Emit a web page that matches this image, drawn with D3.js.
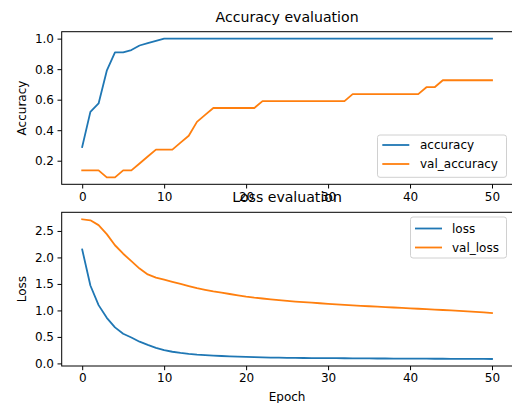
<!DOCTYPE html>
<html>
<head>
<meta charset="utf-8">
<script src="https://cdn.jsdelivr.net/npm/d3@7"></script>
<style>
  body { margin: 0; background: #fff; }
  svg { display: block; font-family: "DejaVu Sans", sans-serif; }
</style>
</head>
<body>
<div id="app"></div>
<script>
// values, one per epoch (0..50)
const epochs = d3.range(0, 51);

const accuracy = [0.29, 0.52, 0.575, 0.79, 0.91, 0.91, 0.925, 0.955, 0.97, 0.985,
  1, 1, 1, 1, 1, 1, 1, 1, 1, 1, 1, 1, 1, 1, 1, 1, 1, 1, 1, 1,
  1, 1, 1, 1, 1, 1, 1, 1, 1, 1, 1, 1, 1, 1, 1, 1, 1, 1, 1, 1, 1];

// val accuracy looks like n / 22
const valAccCounts = [3, 3, 3, 2, 2, 3, 3, 4, 5, 6, 6, 6, 7, 8, 10, 11, 12, 12, 12, 12,
  12, 12, 13, 13, 13, 13, 13, 13, 13, 13, 13, 13, 13, 14, 14, 14, 14, 14, 14, 14,
  14, 14, 15, 15, 16, 16, 16, 16, 16, 16, 16];
const valAccuracy = valAccCounts.map(n => n / 22);

const loss = [2.15, 1.47, 1.10, 0.86, 0.68, 0.56, 0.49, 0.41, 0.35, 0.295,
  0.25, 0.22, 0.198, 0.18, 0.166, 0.156, 0.148, 0.14, 0.133, 0.127,
  0.122, 0.118, 0.114, 0.111, 0.108, 0.106, 0.104, 0.102, 0.101, 0.1,
  0.099, 0.098, 0.097, 0.096, 0.095, 0.094, 0.093, 0.093, 0.092, 0.091,
  0.09, 0.09, 0.089, 0.088, 0.088, 0.087, 0.086, 0.086, 0.085, 0.084, 0.083];

const valLoss = [2.72, 2.70, 2.61, 2.44, 2.23, 2.07, 1.93, 1.79, 1.68, 1.62,
  1.58, 1.54, 1.50, 1.46, 1.42, 1.39, 1.36, 1.335, 1.31, 1.285,
  1.26, 1.24, 1.225, 1.21, 1.195, 1.18, 1.168, 1.157, 1.146, 1.135,
  1.125, 1.115, 1.105, 1.095, 1.087, 1.079, 1.071, 1.063, 1.055, 1.047,
  1.04, 1.032, 1.024, 1.016, 1.008, 1.0, 0.99, 0.981, 0.972, 0.963, 0.95];

const xTicks = [0, 10, 20, 30, 40, 50];
const accTicks = [0.2, 0.4, 0.6, 0.8, 1.0];
const lossTicks = [0.0, 0.5, 1.0, 1.5, 2.0, 2.5];

const blue = "#1f77b4";
const orange = "#ff7f0e";

const W = 512, H = 403;
const svg = d3.select("#app").append("svg")
  .attr("width", W)
  .attr("height", H);

// matplotlib style 5% margins
function padded(vals) {
  let lo = d3.min(vals), hi = d3.max(vals);
  let m = (hi - lo) * 0.05;
  return [lo - m, hi + m];
}

function drawPanel(cfg) {
  const left = 61.7, right = 512.5;
  const x = d3.scaleLinear().domain([-2.5, 52.5]).range([left, right]);
  const y = d3.scaleLinear()
    .domain(padded(cfg.series[0].values.concat(cfg.series[1].values)))
    .range([cfg.bottom, cfg.top]);

  const g = svg.append("g");

  // x axis
  const xa = g.append("g")
    .attr("transform", "translate(0," + cfg.bottom + ")")
    .call(d3.axisBottom(x).tickValues(xTicks).tickSize(4.2).tickPadding(3.5).tickFormat(d3.format("d")));
  // y axis
  const ya = g.append("g")
    .attr("transform", "translate(" + left + ",0)")
    .call(d3.axisLeft(y).tickValues(cfg.ticks).tickSize(4.2).tickPadding(3.5).tickFormat(d3.format(".1f")));

  [xa, ya].forEach(a => {
    a.select(".domain").remove();
    a.selectAll("line").attr("stroke", "#000").attr("stroke-width", 1);
    a.selectAll("text").attr("fill", "#000").style("font-size", "12px")
      .style("font-family", "DejaVu Sans");
  });

  // lines
  const line = d3.line().x((d, i) => x(epochs[i])).y(d => y(d));
  cfg.series.forEach(s => {
    g.append("path")
      .datum(s.values)
      .attr("fill", "none")
      .attr("stroke", s.color)
      .attr("stroke-width", 1.8)
      .attr("stroke-linejoin", "round")
      .attr("stroke-linecap", "square")
      .attr("d", line);
  });

  // frame
  g.append("rect")
    .attr("x", left).attr("y", cfg.top)
    .attr("width", right - left).attr("height", cfg.bottom - cfg.top)
    .attr("fill", "none").attr("stroke", "#000").attr("stroke-width", 1);

  // title
  g.append("text")
    .attr("x", (left + right) / 2)
    .attr("y", cfg.top - 10)
    .attr("text-anchor", "middle")
    .style("font-size", "14.1px")
    .attr("fill", "#000")
    .text(cfg.title);

  // y label
  g.append("text")
    .attr("transform", "translate(25.5," + (cfg.top + cfg.bottom) / 2 + ") rotate(-90)")
    .attr("text-anchor", "middle")
    .style("font-size", "12px")
    .attr("fill", "#000")
    .text(cfg.ylabel);

  if (cfg.xlabel) {
    g.append("text")
      .attr("x", (left + right) / 2)
      .attr("y", 401)
      .attr("text-anchor", "middle")
      .style("font-size", "12px")
      .attr("fill", "#000")
      .text(cfg.xlabel);
  }

  // legend
  const lg = cfg.legend;
  const leg = g.append("g");
  leg.append("rect")
    .attr("x", lg.x0).attr("y", lg.y0)
    .attr("width", lg.x1 - lg.x0).attr("height", lg.y1 - lg.y0)
    .attr("rx", 2.5)
    .attr("fill", "#fff").attr("fill-opacity", 0.8)
    .attr("stroke", "#d0d0d0").attr("stroke-width", 1);
  cfg.series.forEach((s, i) => {
    const yy = lg.rows[i];
    leg.append("line")
      .attr("x1", lg.lx0).attr("x2", lg.lx1)
      .attr("y1", yy).attr("y2", yy)
      .attr("stroke", s.color).attr("stroke-width", 1.8);
    leg.append("text")
      .attr("x", lg.tx).attr("y", yy)
      .attr("dy", "0.36em")
      .style("font-size", "12px")
      .attr("fill", "#000")
      .text(s.name);
  });
}

drawPanel({
  top: 31.7, bottom: 184.3,
  title: "Accuracy evaluation",
  ylabel: "Accuracy",
  ticks: accTicks,
  series: [
    { name: "accuracy", values: accuracy, color: blue },
    { name: "val_accuracy", values: valAccuracy, color: orange }
  ],
  legend: { x0: 377.5, x1: 506.5, y0: 135, y1: 177.3, lx0: 382.3, lx1: 409.3, tx: 420, rows: [145, 164] }
});

drawPanel({
  top: 212.3, bottom: 366,
  title: "Loss evaluation",
  ylabel: "Loss",
  xlabel: "Epoch",
  ticks: lossTicks,
  series: [
    { name: "loss", values: loss, color: blue },
    { name: "val_loss", values: valLoss, color: orange }
  ],
  legend: { x0: 410.5, x1: 506.5, y0: 217, y1: 258, lx0: 415, lx1: 442, tx: 452, rows: [228.5, 247.5] }
});
</script>
</body>
</html>
